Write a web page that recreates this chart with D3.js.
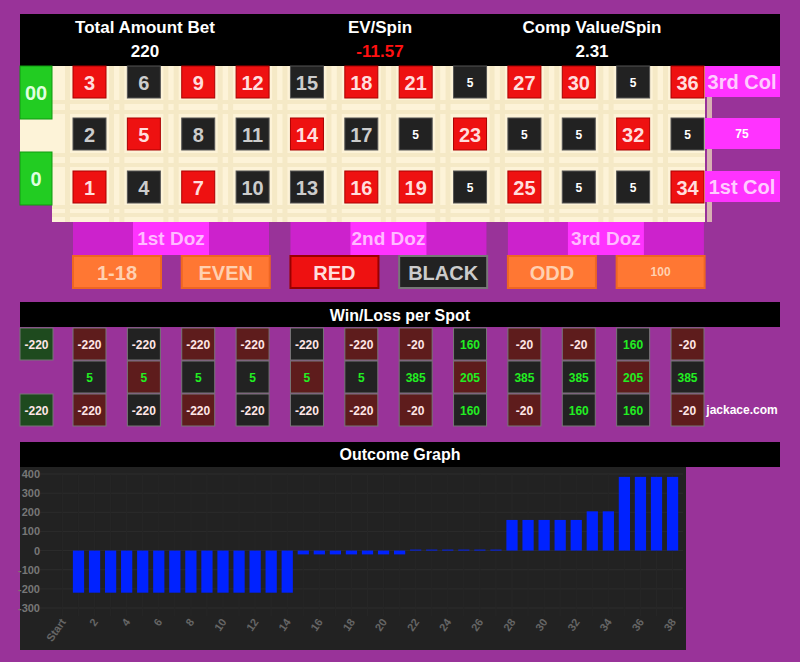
<!DOCTYPE html>
<html><head><meta charset="utf-8">
<script src="https://cdn.jsdelivr.net/npm/d3@7"></script>
<style>
body{margin:0;background:#993399;}
svg text{font-family:"Liberation Sans Narrow","Arial Narrow","Liberation Sans",sans-serif;font-weight:bold;}
</style></head>
<body>
<svg id="chart" width="800" height="662"></svg>
<script>
// board rows, top to bottom (3rd col, 2nd col, 1st col)
const boardRows = [
  [3,6,9,12,15,18,21,24,27,30,33,36],
  [2,5,8,11,14,17,20,23,26,29,32,35],
  [1,4,7,10,13,16,19,22,25,28,31,34]
]
const redNums = [1,3,5,7,9,12,14,16,18,19,21,23,25,27,30,32,34,36]
// chip amounts sitting on numbers (shown instead of the number)
const chips = {20:5,22:5,24:5,26:5,28:5,29:5,31:5,33:5,35:5}
const colLabels = ['3rd Col','75','1st Col']
const dozens = ['1st Doz','2nd Doz','3rd Doz']
const outside = ['1-18','EVEN','RED','BLACK','ODD','100']
const stats = [['Total Amount Bet','220'],['EV/Spin','-11.57'],['Comp Value/Spin','2.31']]
const winLoss = [
  [-220,-220,-220,-220,-220,-220,-220,-20,160,-20,-20,160,-20],
  [null,5,5,5,5,5,5,385,205,385,385,205,385],
  [-220,-220,-220,-220,-220,-220,-220,-20,160,-20,160,160,-20]
]
const spins = ['Start'].concat(d3.range(1,39).map(String))
const outcome = [0,-220,-220,-220,-220,-220,-220,-220,-220,-220,-220,-220,-220,-220,-220,
  -20,-20,-20,-20,-20,-20,-20, 5,5,5,5,5,5, 160,160,160,160,160, 205,205, 385,385,385,385]

const svg = d3.select('#chart')
const colX = d3.scaleLinear().domain([0,11]).range([73,671])
const cw = 33
const rowY = d3.scaleOrdinal().domain([0,1,2]).range([66,118,171])
const isRed = n => redNums.includes(n)

// header
svg.append('rect').attr('x',20).attr('y',14).attr('width',760).attr('height',52).attr('fill','#000')
stats.forEach((s,i)=>{
  const cx = [145,380,592][i]
  svg.append('text').attr('x',cx).attr('y',33).attr('text-anchor','middle').attr('fill','#fff')
    .attr('font-size',17).text(s[0])
  svg.append('text').attr('x',cx).attr('y',57).attr('text-anchor','middle')
    .attr('fill',i==1?'#ff1111':'#fff').attr('font-size',17).text(s[1])
})

// board
svg.append('rect').attr('x',52).attr('y',66).attr('width',653).attr('height',156).attr('fill','#fdf3d8')
svg.append('rect').attr('x',20).attr('y',118).attr('width',32).attr('height',34).attr('fill','#fdf3d8')
const stripes = svg.append('g').attr('fill','#f3e6bf').attr('opacity',0.7)
d3.range(12).forEach(i=>{
  stripes.append('rect').attr('x',colX(i)-8).attr('y',66).attr('width',5).attr('height',156)
  stripes.append('rect').attr('x',colX(i)+cw+3).attr('y',66).attr('width',5).attr('height',156)
})
;[100,110,153,163,205,213].forEach(y=>stripes.append('rect').attr('x',52).attr('y',y).attr('width',653).attr('height',4))

;[['00',66],['0',152]].forEach(z=>{
  svg.append('rect').attr('x',20).attr('y',z[1]).attr('width',32).attr('height',53).attr('fill','#22cc22')
    .attr('stroke','#119911')
  svg.append('text').attr('x',36).attr('y',z[1]+34).attr('text-anchor','middle').attr('fill','#dfffdf')
    .attr('font-size',20).text(z[0])
})

boardRows.forEach((row,r)=>{
  const g = svg.append('g').selectAll('g').data(row).join('g')
    .attr('transform',(d,i)=>`translate(${colX(i)},${rowY(r)})`)
  g.append('rect').attr('width',cw).attr('height',32)
    .attr('fill',d=>isRed(d)?'#ee1111':'#222').attr('stroke',d=>isRed(d)?'#aa0000':'#555')
  g.append('text').attr('x',cw/2).attr('y',d=>chips[d]?21:24).attr('text-anchor','middle')
    .attr('fill',d=>chips[d]?'#fff':(isRed(d)?'#ffdddd':'#ccc'))
    .attr('font-size',d=>chips[d]?12:20).text(d=>chips[d]?chips[d]:d)
})

colLabels.forEach((t,r)=>{
  svg.append('rect').attr('x',705).attr('y',rowY(r)).attr('width',75).attr('height',31).attr('fill','#ff33ff')
  svg.append('text').attr('x',742).attr('y',rowY(r)+(r==1?20:23)).attr('text-anchor','middle')
    .attr('fill',r==1?'#fff':'#ffccff').attr('font-size',r==1?12:20).text(t)
})

dozens.forEach((t,i)=>{
  const x = colX(i*4)
  svg.append('rect').attr('x',x).attr('y',222).attr('width',196).attr('height',33).attr('fill','#cc22cc')
  svg.append('rect').attr('x',x+60).attr('y',222).attr('width',76).attr('height',33).attr('fill','#ff33ff')
  svg.append('text').attr('x',x+98).attr('y',245).attr('text-anchor','middle').attr('fill','#ffbbff')
    .attr('font-size',19).text(t)
})

outside.forEach((t,i)=>{
  const x = colX(i*2)
  const fill = t=='RED'?'#ee1111':t=='BLACK'?'#222':'#ff7733'
  svg.append('rect').attr('x',x).attr('y',256).attr('width',88).attr('height',32).attr('fill',fill)
    .attr('stroke',t=='RED'?'#990000':t=='BLACK'?'#777':'#ee6622').attr('stroke-width',2)
  svg.append('text').attr('x',x+44).attr('y',t=='100'?276:280).attr('text-anchor','middle')
    .attr('fill',t=='BLACK'?'#ccc':(t=='RED'?'#ffdddd':'#ffd0b0')).attr('font-size',t=='100'?12:20).text(t)
})

// win/loss per spot
svg.append('rect').attr('x',20).attr('y',302).attr('width',760).attr('height',25).attr('fill','#000')
svg.append('text').attr('x',400).attr('y',321).attr('text-anchor','middle').attr('fill','#fff')
  .attr('font-family','Liberation Sans,Arial,sans-serif').attr('font-size',16).text('Win/Loss per Spot')
winLoss.forEach((row,r)=>{
  row.forEach((v,i)=>{
    if(v===null) return
    const x = i==0?20:colX(i-1)
    const y = 328+r*33
    const fill = i==0?'#1e4a1e':(isRed(boardRows[r][i-1])?'#5e1c1c':'#222')
    svg.append('rect').attr('x',x).attr('y',y).attr('width',cw).attr('height',32).attr('fill',fill)
      .attr('stroke','#777')
    svg.append('text').attr('x',x+cw/2).attr('y',y+21).attr('text-anchor','middle')
      .attr('fill',v>0?'#22ee22':'#ffe6e6').attr('font-size',12).text(v)
  })
})
svg.append('text').attr('x',742).attr('y',414).attr('text-anchor','middle').attr('fill','#fff')
  .attr('font-weight','normal').attr('font-size',12).text('jackace.com')

// outcome graph
svg.append('rect').attr('x',20).attr('y',442).attr('width',760).attr('height',25).attr('fill','#000')
svg.append('text').attr('x',400).attr('y',460).attr('text-anchor','middle').attr('fill','#fff')
  .attr('font-family','Liberation Sans,Arial,sans-serif').attr('font-size',16).text('Outcome Graph')
svg.append('rect').attr('x',20).attr('y',467).attr('width',666).attr('height',183).attr('fill','#222')

const x = d3.scaleBand().domain(spins).range([52,683]).padding(0.3)
const y = d3.scaleLinear().domain([-300,400]).range([608,474])
const grid = svg.append('g')
y.ticks(7).forEach(t=>{
  grid.append('line').attr('x1',40).attr('x2',683).attr('y1',y(t)).attr('y2',y(t)).attr('stroke','#2c2c2c')
  grid.append('text').attr('x',40).attr('y',y(t)+4).attr('text-anchor','end').attr('fill','#777')
    .attr('font-weight','normal').attr('font-family','Liberation Sans,Arial,sans-serif').attr('font-size',11).text(t)
})
spins.forEach(s=>grid.append('line').attr('x1',x(s)+x.bandwidth()/2).attr('x2',x(s)+x.bandwidth()/2)
  .attr('y1',474).attr('y2',616).attr('stroke','#262626'))
svg.append('g').selectAll('rect').data(outcome).join('rect')
  .attr('x',(d,i)=>x(spins[i])).attr('width',x.bandwidth())
  .attr('y',d=>y(Math.max(0,d))).attr('height',d=>Math.abs(y(d)-y(0)))
  .attr('fill','#0022ff')
spins.forEach((s,i)=>{
  if(i%2) return
  const cx = x(s)+x.bandwidth()/2
  svg.append('text').attr('transform',`translate(${cx+4},${622}) rotate(-55)`).attr('text-anchor','end')
    .attr('fill','#666').attr('font-weight','normal').attr('font-family','Liberation Sans,Arial,sans-serif')
    .attr('font-size',11).text(s)
})
</script>
</body></html>
